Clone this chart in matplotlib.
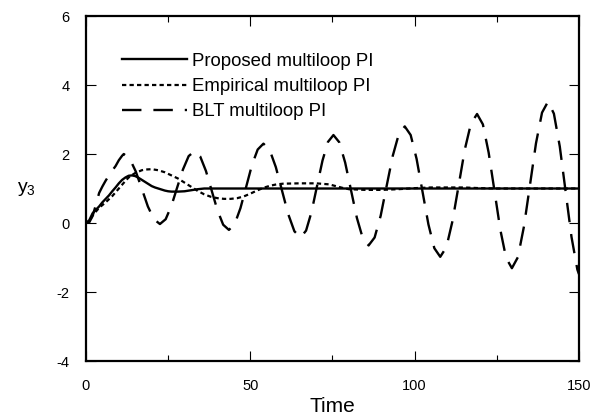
import matplotlib
matplotlib.use("Agg")
import matplotlib.pyplot as plt

plt.rcParams['font.family'] = ['Liberation Sans', 'DejaVu Sans']
plt.rcParams['mathtext.fontset'] = 'custom'
plt.rcParams['mathtext.rm'] = 'Liberation Sans'
plt.rcParams['lines.scale_dashes'] = False
plt.rcParams['axes.unicode_minus'] = False

## data
t_prop = [0, 1, 2, 3, 4, 5, 6, 7, 8, 9, 10, 11, 12, 13, 14, 15, 16, 17, 18, 19,
          20, 21, 22, 23, 24, 25, 26, 28, 30, 32, 34, 36, 38, 150]
y_prop = [0, 0.08, 0.28, 0.38, 0.48, 0.6, 0.7, 0.8, 0.92, 1.03, 1.15, 1.25, 1.32,
          1.37, 1.38, 1.36, 1.31, 1.25, 1.19, 1.13, 1.07, 1.03, 1.0, 0.97, 0.94,
          0.92, 0.91, 0.91, 0.92, 0.95, 0.98, 1.0, 1.0, 1.0]

t_emp = [0, 1, 2, 3, 4, 5, 6, 7, 8, 9, 10, 11, 12, 13, 14, 15, 16, 17, 18, 20,
         22, 24, 26, 28, 30, 32, 34, 36, 38, 40, 42, 44, 46, 48, 50, 52, 54, 56,
         58, 60, 65, 70, 74, 76, 78, 80, 85, 90, 95, 100, 105, 110, 115, 120,
         125, 150]
y_emp = [0, 0.05, 0.22, 0.33, 0.44, 0.52, 0.6, 0.69, 0.78, 0.89, 1.0, 1.11, 1.22,
         1.32, 1.39, 1.45, 1.49, 1.53, 1.55, 1.56, 1.53, 1.47, 1.38, 1.29, 1.17,
         1.05, 0.93, 0.83, 0.76, 0.72, 0.7, 0.7, 0.72, 0.77, 0.85, 0.94, 1.02,
         1.08, 1.12, 1.14, 1.15, 1.15, 1.12, 1.07, 1.02, 0.98, 0.96, 0.96, 0.98,
         1.01, 1.03, 1.03, 1.03, 1.01, 1.0, 1.0]

t_blt = [0, 1, 2, 3, 4, 5, 6, 7, 8, 9, 10, 11, 11.5,
         13.33, 15.17, 17.0, 18.83, 20.67, 22.5,
         24.25, 26.0, 27.75, 29.5, 31.25, 33.0,
         34.75, 36.5, 38.25, 40.0, 41.75, 43.5,
         45.25, 47.0, 48.75, 50.5, 52.25, 54.0,
         55.88, 57.77, 59.65, 61.53, 63.42, 65.3,
         66.97, 68.63, 70.3, 71.97, 73.63, 75.3,
         77.08, 78.87, 80.65, 82.43, 84.22, 86.0,
         87.83, 89.67, 91.5, 93.33, 95.17, 97.0,
         98.8, 100.6, 102.4, 104.2, 106.0, 107.8,
         109.67, 111.53, 113.4, 115.27, 117.13, 119.0,
         120.77, 122.53, 124.3, 126.07, 127.83, 129.6,
         131.43, 133.27, 135.1, 136.93, 138.77, 140.6,
         142.38, 144.17, 145.95, 147.73, 149.52, 150]
y_blt = [0, 0.02, 0.2, 0.52, 0.87, 1.06, 1.23, 1.38, 1.52, 1.65, 1.82, 1.95, 2.0,
         1.86, 1.49, 0.99, 0.48, 0.11, -0.03,
         0.11, 0.5, 1.03, 1.55, 1.94, 2.08,
         1.93, 1.51, 0.94, 0.37, -0.05, -0.2,
         -0.03, 0.43, 1.05, 1.68, 2.13, 2.3,
         2.12, 1.62, 0.94, 0.26, -0.24, -0.42,
         -0.22, 0.32, 1.07, 1.81, 2.35, 2.55,
         2.34, 1.75, 0.95, 0.15, -0.44, -0.65,
         -0.42, 0.21, 1.08, 1.94, 2.57, 2.8,
         2.55, 1.86, 0.91, -0.04, -0.73, -0.98,
         -0.7, 0.06, 1.09, 2.13, 2.88, 3.16,
         2.86, 2.04, 0.93, -0.19, -1.01, -1.31,
         -0.99, -0.1, 1.1, 2.31, 3.2, 3.52,
         3.17, 2.22, 0.91, -0.4, -1.35, -1.48]

labels = ['Proposed multiloop PI', 'Empirical multiloop PI', 'BLT multiloop PI']

fig = plt.figure(figsize=(5.95, 4.16), dpi=100)
ax = fig.add_axes([0.1445, 0.1322, 0.8285, 0.8293])

ax.plot(t_prop, y_prop, color='black', lw=1.7, label=labels[0])
ax.plot(t_emp, y_emp, color='black', lw=1.6, dashes=(3.1, 2.3), label=labels[1])
ax.plot(t_blt, y_blt, color='black', lw=1.7, dashes=(14, 8.6), label=labels[2])

ax.set_xlim(0, 150)
ax.set_ylim(-4, 6)
ax.set_xticks([0, 50, 100, 150])
ax.set_xticks([25, 75, 125], minor=True)
ax.set_yticks([-4, -2, 0, 2, 4, 6])
ax.tick_params(which='both', direction='in', top=True, right=True, width=0.8,
               labelsize=10.5)
ax.tick_params(which='major', length=7.5)
ax.tick_params(which='minor', length=4)
ax.tick_params(axis='x', pad=13)
ax.tick_params(axis='y', pad=12)
for s in ax.spines.values():
    s.set_linewidth(1.6)

leg = ax.legend(loc='upper left', bbox_to_anchor=(0.073, 0.893), frameon=False,
                fontsize=13.4, handlelength=3.5, handletextpad=0.27,
                labelspacing=0.44, borderpad=0, borderaxespad=0)

fig.text(332 / 595, 1 - 407 / 416, 'Time', fontsize=15, ha='center', va='center')
fig.text(26 / 595, 1 - 189 / 416, 'y$_{\\mathrm{3}}$', fontsize=14,
         ha='center', va='center')

fig.savefig('out.png', dpi=100)
